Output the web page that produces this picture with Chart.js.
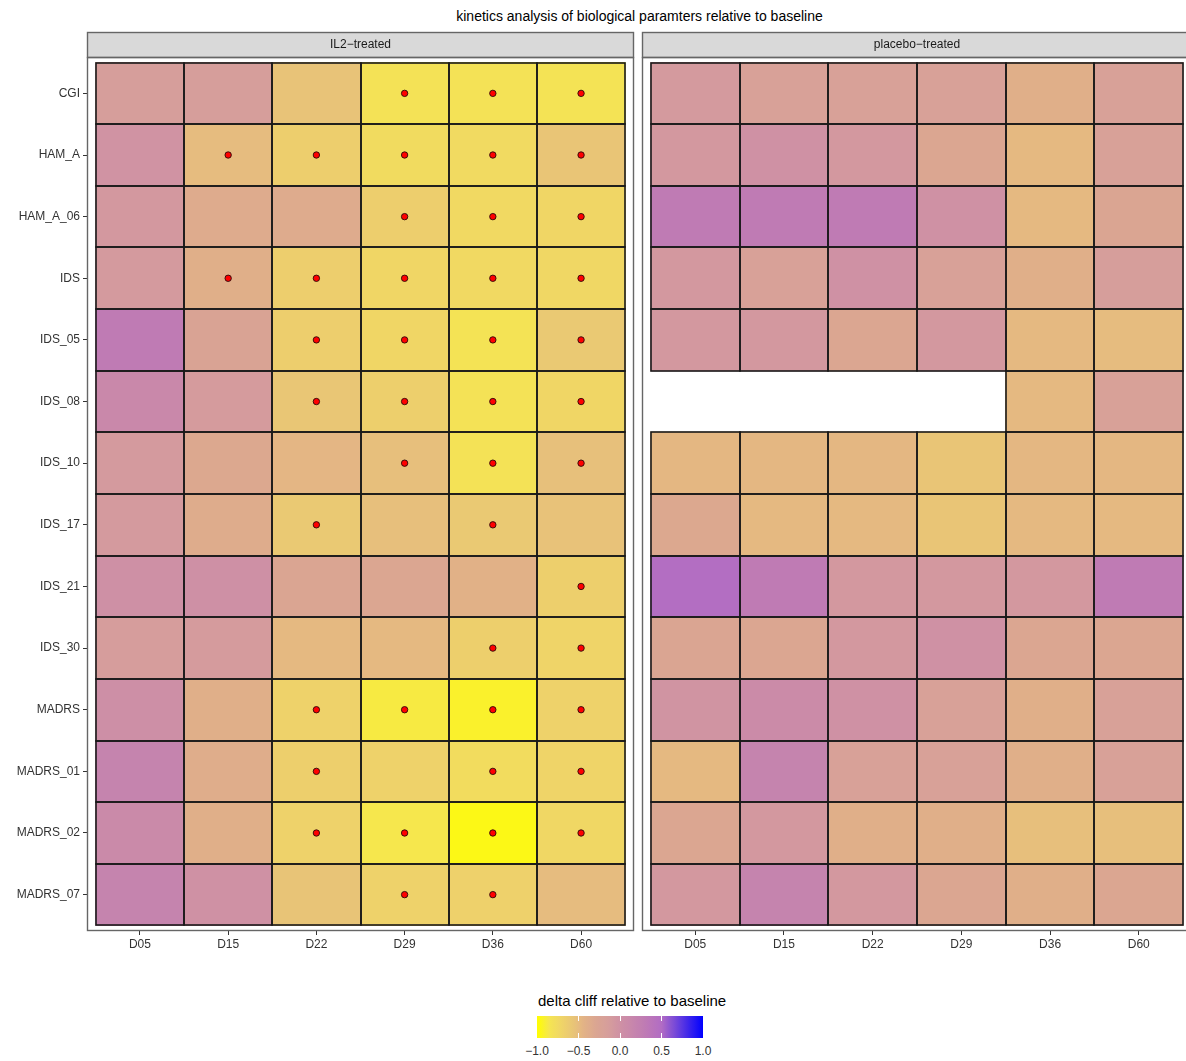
<!DOCTYPE html>
<html>
<head>
<meta charset="utf-8">
<script src="https://cdn.jsdelivr.net/npm/chart.js@4.4.1/dist/chart.umd.min.js"></script>
<style>
html, body { margin:0; padding:0; background:#fff; overflow:hidden; width:1186px; height:1061px; }
body { position:relative; font-family:"Liberation Sans", Arial, Helvetica, sans-serif; }
#title { position:absolute; left:0; width:1279px; top:7px; text-align:center; font-size:14px; line-height:18px; color:#000; white-space:nowrap; }
.wrap { position:absolute; top:0; }
#legTitle { position:absolute; left:538px; top:992px; font-size:15px; line-height:18px; color:#000; white-space:nowrap; }
#legBar { position:absolute; left:537px; top:1016px; width:166px; height:22px; }
.legTick { position:absolute; width:1px; height:5px; background:#fff; }
.legLab { position:absolute; top:1044px; width:40px; margin-left:-20px; text-align:center; font-size:12px; line-height:14px; color:#333; }
</style>
</head>
<body>
<div id="title">kinetics analysis of biological paramters relative to baseline</div>
<div class="wrap" style="left:0px;"><canvas id="c1" width="640" height="960"></canvas></div>
<div class="wrap" style="left:640px;"><canvas id="c2" width="560" height="960"></canvas></div>
<div id="legTitle">delta cliff relative to baseline</div>
<div id="legBar"></div>
<script>
// ---------------- data ----------------
const rows = ["CGI","HAM_A","HAM_A_06","IDS","IDS_05","IDS_08","IDS_10","IDS_17","IDS_21","IDS_30","MADRS","MADRS_01","MADRS_02","MADRS_07"];
const days = ["D05","D15","D22","D29","D36","D60"];
const facetLabels = ["IL2\u2212treated", "placebo\u2212treated"];

const il2Values = [
  [-0.15,-0.15,-0.55,-0.82,-0.82,-0.83],
  [-0.02,-0.50,-0.65,-0.76,-0.75,-0.57],
  [-0.08,-0.35,-0.35,-0.65,-0.74,-0.72],
  [-0.10,-0.40,-0.65,-0.72,-0.74,-0.73],
  [ 0.30,-0.25,-0.65,-0.72,-0.83,-0.60],
  [ 0.12,-0.12,-0.58,-0.66,-0.82,-0.72],
  [-0.10,-0.32,-0.46,-0.52,-0.82,-0.53],
  [-0.10,-0.36,-0.60,-0.52,-0.60,-0.54],
  [ 0.02, 0.02,-0.28,-0.30,-0.42,-0.66],
  [-0.14,-0.12,-0.48,-0.48,-0.66,-0.70],
  [ 0.03,-0.40,-0.68,-0.88,-0.92,-0.68],
  [ 0.18,-0.38,-0.66,-0.68,-0.77,-0.70],
  [ 0.10,-0.40,-0.68,-0.86,-0.96,-0.73],
  [ 0.18, 0.00,-0.56,-0.68,-0.67,-0.50]
];
const il2Signif = [
  [0,0,0,1,1,1],
  [0,1,1,1,1,1],
  [0,0,0,1,1,1],
  [0,1,1,1,1,1],
  [0,0,1,1,1,1],
  [0,0,1,1,1,1],
  [0,0,0,1,1,1],
  [0,0,1,0,1,0],
  [0,0,0,0,0,1],
  [0,0,0,0,1,1],
  [0,0,1,1,1,1],
  [0,0,1,0,1,1],
  [0,0,1,1,1,1],
  [0,0,0,1,1,0]
];
const placeboValues = [
  [-0.10,-0.20,-0.20,-0.20,-0.40,-0.20],
  [-0.08, 0.00,-0.08,-0.30,-0.48,-0.20],
  [ 0.30, 0.30, 0.30, 0.00,-0.48,-0.28],
  [-0.08,-0.20, 0.00,-0.20,-0.40,-0.15],
  [-0.08,-0.08,-0.30,-0.08,-0.48,-0.50],
  [ null, null, null, null,-0.48,-0.20],
  [-0.47,-0.47,-0.47,-0.57,-0.47,-0.47],
  [-0.32,-0.48,-0.48,-0.57,-0.48,-0.48],
  [ 0.48, 0.30,-0.08,-0.08,-0.08, 0.30],
  [-0.28,-0.30,-0.08, 0.00,-0.30,-0.30],
  [-0.03, 0.08, 0.00,-0.20,-0.40,-0.20],
  [-0.48, 0.18,-0.20,-0.20,-0.40,-0.20],
  [-0.30,-0.08,-0.40,-0.40,-0.52,-0.52],
  [-0.08, 0.18,-0.08,-0.30,-0.40,-0.30]
];
const placeboSignif = rows.map(() => [0,0,0,0,0,0]);
const legendBreaks = [-1, -0.5, 0, 0.5, 1];
const legendLabels = ["\u22121.0", "\u22120.5", "0.0", "0.5", "1.0"];

// ---------------- colour scale ----------------
const colourStops = [
  [-1.00, [255,255,0]],
  [-0.85, [245,229,82]],
  [-0.70, [239,212,104]],
  [-0.55, [232,195,120]],
  [-0.45, [227,180,133]],
  [-0.30, [219,166,145]],
  [-0.15, [214,158,155]],
  [ 0.00, [207,145,164]],
  [ 0.30, [191,123,180]],
  [ 0.50, [178,108,196]],
  [ 1.00, [0,0,255]]
];
function colourScale(v) {
  v = Math.max(-1, Math.min(1, v));
  for (let k = 0; k < colourStops.length - 1; k++) {
    const [v0, c0] = colourStops[k], [v1, c1] = colourStops[k+1];
    if (v >= v0 && v <= v1) {
      const t = (v - v0) / (v1 - v0);
      const c = c0.map((x, j) => Math.round(x + (c1[j] - x) * t));
      return `rgb(${c[0]},${c[1]},${c[2]})`;
    }
  }
  return 'rgb(0,0,255)';
}

// ---------------- charts ----------------
const FONT = '"Liberation Sans", Arial, Helvetica, sans-serif';

const facetFrame = {
  id: 'facetFrame',
  afterDatasetsDraw(chart) {
    // crisp outlines around every tile, taken from the bar elements
    const ctx = chart.ctx;
    ctx.save();
    ctx.strokeStyle = '#1a1a1a';
    ctx.lineWidth = 1.6;
    chart.data.datasets.forEach((ds, di) => {
      if (ds.type !== 'bar') return;
      chart.getDatasetMeta(di).data.forEach(el => {
        const p = el.getProps(['x', 'y', 'base', 'height'], true);
        const l = Math.round(Math.min(p.x, p.base)), r = Math.round(Math.max(p.x, p.base));
        const t = Math.round(p.y - p.height / 2), b = Math.round(p.y + p.height / 2);
        ctx.strokeRect(l, t, r - l, b - t);
      });
    });
    ctx.restore();
  },
  afterDraw(chart, args, opts) {
    const { ctx, chartArea: a } = chart;
    ctx.save();
    ctx.fillStyle = '#D9D9D9';
    ctx.fillRect(a.left, 32, a.right - a.left, 25);
    ctx.strokeStyle = '#666';
    ctx.lineWidth = 1.4;
    ctx.strokeRect(a.left + 0.5, 32.5, a.right - a.left - 1, 25);
    ctx.strokeRect(a.left + 0.5, a.top + 0.5, a.right - a.left - 1, a.bottom - a.top - 1);
    ctx.fillStyle = '#1A1A1A';
    ctx.font = '12px ' + FONT;
    ctx.textAlign = 'center';
    ctx.textBaseline = 'middle';
    ctx.fillText(opts.label, (a.left + a.right) / 2, 45);
    ctx.restore();
  }
};

function buildDatasets(values, signif) {
  const ds = days.map((d, c) => {
    const data = [], colours = [];
    rows.forEach((r, i) => {
      const v = values[i][c];
      if (v === null) return;
      data.push({ x: [c, c + 1], y: i + 0.5 });
      colours.push(colourScale(v));
    });
    return {
      type: 'bar', label: d, data, backgroundColor: colours,
      borderWidth: 0, borderSkipped: false,
      grouped: false, barPercentage: 1, categoryPercentage: 1, inflateAmount: 0.5,
      indexAxis: 'y', order: 2
    };
  });
  const pts = [];
  rows.forEach((r, i) => days.forEach((d, c) => { if (signif[i][c]) pts.push({ x: c + 0.5, y: i + 0.5 }); }));
  ds.push({
    type: 'scatter', label: 'signif', data: pts, indexAxis: 'x',
    pointRadius: 3.2, pointBackgroundColor: '#FF0000', pointBorderColor: '#2a0a0a', pointBorderWidth: 0.9,
    order: 0
  });
  return ds;
}

function makeChart(id, values, signif, label, showY, padLeft, padRight) {
  return new Chart(document.getElementById(id), {
    type: 'bar',
    data: { datasets: buildDatasets(values, signif) },
    options: {
      indexAxis: 'y',
      responsive: false, animation: false, devicePixelRatio: 1,
      events: [],
      layout: { padding: { left: padLeft, right: padRight, top: 57, bottom: 0 } },
      plugins: { legend: { display: false }, tooltip: { enabled: false }, title: { display: false }, facetFrame: { label } },
      scales: {
        x: {
          type: 'linear', position: 'bottom', min: -0.1, max: 6.1, offset: false,
          afterBuildTicks: s => { s.ticks = days.map((d, c) => ({ value: c + 0.5 })); },
          afterFit: s => { s.height = 29; },
          ticks: { callback: v => days[Math.round(v - 0.5)], autoSkip: false, maxRotation: 0, minRotation: 0, padding: 2,
                   font: { family: FONT, size: 12 }, color: '#333' },
          grid: { display: true, offset: false, drawOnChartArea: false, drawTicks: true, tickLength: 4, tickColor: '#333', tickWidth: 1 },
          border: { display: false }
        },
        y: {
          type: 'linear', position: 'left', reverse: true, min: -0.09, max: 14.09, display: showY, offset: false,
          afterBuildTicks: s => { s.ticks = rows.map((r, i) => ({ value: i + 0.5 })); },
          afterFit: s => { if (showY) s.width = 87; },
          ticks: { callback: v => rows[Math.round(v - 0.5)], autoSkip: false, padding: 3,
                   font: { family: FONT, size: 12 }, color: '#333' },
          grid: { display: true, offset: false, drawOnChartArea: false, drawTicks: true, tickLength: 4, tickColor: '#333', tickWidth: 1 },
          border: { display: false }
        }
      }
    },
    plugins: [facetFrame]
  });
}

makeChart('c1', il2Values, il2Signif, facetLabels[0], true, 0, 6);
makeChart('c2', placeboValues, placeboSignif, facetLabels[1], false, 2, 8);

// ---------------- colour legend ----------------
const bar = document.getElementById('legBar');
const stops = [];
for (let k = 0; k <= 40; k++) { const v = -1 + k * 0.05; stops.push(colourScale(v) + ' ' + (k * 2.5) + '%'); }
bar.style.background = 'linear-gradient(to right,' + stops.join(',') + ')';
legendBreaks.forEach((b, k) => {
  const x = 537 + (b + 1) / 2 * 166;
  const lab = document.createElement('div');
  lab.className = 'legLab';
  lab.style.left = x + 'px';
  lab.textContent = legendLabels[k];
  document.body.appendChild(lab);
  if (b > -1 && b < 1) {
    ['0px', '17px'].forEach(top => {
      const t = document.createElement('div');
      t.className = 'legTick';
      t.style.left = (x - 537 - 0.5) + 'px';
      t.style.top = top;
      bar.appendChild(t);
    });
  }
});
</script>
</body>
</html>
